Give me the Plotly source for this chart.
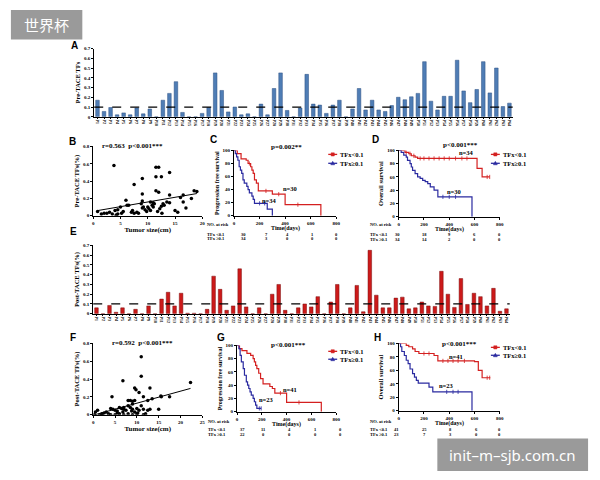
import plotly.graph_objects as go
import numpy as np

# ---------------- DATA ----------------
patients = [f"P{i}" for i in range(1, 65)]
pre_tfs = [0.17, 0.055, 0.095, 0.02, 0.04, 0.02, 0.09, 0.03, 0.08, 0.0,
           0.17, 0.24, 0.36, 0.045, 0.0, 0.0, 0.035, 0.095, 0.45, 0.27,
           0.05, 0.10, 0.02, 0.03, 0.0, 0.13, 0.02, 0.29, 0.45, 0.065,
           0.0, 0.09, 0.435, 0.13, 0.12, 0.035, 0.12, 0.17, 0.0, 0.08,
           0.29, 0.07, 0.17, 0.07, 0.055, 0.115, 0.20, 0.175, 0.205, 0.24,
           0.565, 0.16, 0.07, 0.21, 0.21, 0.58, 0.265, 0.145, 0.28, 0.565,
           0.245, 0.50, 0.105, 0.14]
post_tfs = [0.06, 0.0, 0.085, 0.015, 0.06, 0.0, 0.045, 0.0, 0.08, 0.0,
            0.15, 0.22, 0.08, 0.21, 0.005, 0.005, 0.0, 0.045, 0.385, 0.25,
            0.035, 0.08, 0.46, 0.07, 0.0, 0.06, 0.0, 0.20, 0.30, 0.035,
            0.0, 0.06, 0.10, 0.07, 0.175, 0.0, 0.12, 0.30, 0.0, 0.06,
            0.29, 0.02, 0.65, 0.19, 0.06, 0.06, 0.16, 0.17, 0.05, 0.06,
            0.12, 0.08, 0.075, 0.435, 0.20, 0.065, 0.36, 0.095, 0.21, 0.175,
            0.08, 0.26, 0.025, 0.05]

size_pre = [3.8, 11.5, 12.0, 14.0, 9.0, 11.5, 12.5, 7.5, 11.5, 12.0, 9.0, 14.0, 16.5, 18.5, 19.0,
            6.0, 16.0, 18.0, 9.0, 10.5, 11.0, 12.8, 11.2, 8.8, 6.5, 9.2, 10.0, 10.2, 13.0, 14.0,
            12.5, 15.0, 17.0, 16.5, 4.5, 5.0, 4.0, 3.0, 2.5, 1.5, 2.0, 3.5, 4.2, 4.5, 5.2,
            5.5, 7.0, 7.5, 8.0, 8.3, 9.5, 9.8, 10.5, 11.0, 12.2, 12.6, 11.8, 15.5, 9.0, 7.2,
            6.2, 0.8, 10.8, 13.5]
tfs_pre = [0.58, 0.56, 0.56, 0.50, 0.43, 0.45, 0.45, 0.36, 0.29, 0.27, 0.25, 0.24, 0.24, 0.29, 0.28,
           0.18, 0.21, 0.20, 0.17, 0.16, 0.15, 0.14, 0.14, 0.14, 0.12, 0.10, 0.10, 0.08, 0.12, 0.15,
           0.11, 0.06, 0.09, 0.16, 0.07, 0.10, 0.06, 0.04, 0.03, 0.02, 0.03, 0.02, 0.01, 0.02, 0.03,
           0.05, 0.04, 0.03, 0.04, 0.03, 0.07, 0.05, 0.06, 0.10, 0.08, 0.03, 0.05, 0.04, 0.09, 0.06,
           0.12, 0.05, 0.12, 0.16]

size_post = [11.0, 11.0, 6.8, 9.5, 9.8, 13.0, 22.3, 10.5, 11.5, 4.3, 12.5, 13.5, 15.5, 15.6, 17.5,
             8.0, 8.5, 9.0, 9.5, 9.0, 8.0, 7.0, 6.0, 6.5, 7.0, 7.5, 8.5, 9.0, 10.0, 10.5,
             11.0, 11.5, 12.5, 13.0, 15.0, 4.0, 4.5, 5.0, 5.5, 3.0, 2.5, 2.0, 1.5, 1.0, 0.5,
             3.5, 4.0, 5.0, 6.0, 7.0, 8.0, 9.0, 10.0, 11.5, 12.0, 9.5, 8.8, 10.2, 6.8, 5.5,
             0.3, 2.0]
tfs_post = [0.65, 0.43, 0.38, 0.30, 0.28, 0.30, 0.36, 0.25, 0.20, 0.20, 0.16, 0.18, 0.21, 0.20, 0.20,
            0.16, 0.16, 0.15, 0.16, 0.12, 0.10, 0.08, 0.08, 0.07, 0.06, 0.05, 0.08, 0.06, 0.07, 0.05,
            0.10, 0.06, 0.05, 0.06, 0.06, 0.07, 0.06, 0.05, 0.04, 0.03, 0.02, 0.01, 0.0, 0.05, 0.03,
            0.01, 0.0, 0.0, 0.01, 0.0, 0.01, 0.0, 0.01, 0.0, 0.01, 0.03, 0.04, 0.02, 0.03, 0.02,
            0.0, 0.0]

# Kaplan-Meier step data (time in days, survival in %)
c_low_t = [0, 25, 55, 95, 110, 130, 140, 150, 160, 175, 190, 300, 400, 680]
c_low_s = [100, 95, 87, 85, 80, 75, 70, 65, 55, 50, 38, 33, 17, 0]
c_low_cens = [120, 250, 350, 500]
c_high_t = [0, 10, 20, 30, 40, 50, 60, 70, 80, 100, 110, 120, 140, 150, 160, 260, 300]
c_high_s = [100, 95, 90, 85, 75, 70, 65, 55, 50, 45, 40, 35, 30, 25, 19, 10, 0]
c_high_cens = [200, 240]

d_low_t = [0, 50, 80, 100, 130, 150, 620, 660, 720]
d_low_s = [100, 97, 95, 92, 90, 88, 73, 60, 60]
d_low_cens = [60, 90, 120, 170, 200, 240, 280, 320, 360, 400, 450, 500, 540, 700, 720]
d_high_t = [0, 20, 40, 60, 70, 90, 100, 110, 130, 150, 170, 190, 210, 230, 250, 280, 310, 580]
d_high_s = [100, 97, 93, 90, 85, 80, 75, 70, 65, 60, 58, 55, 53, 50, 45, 40, 30, 0]
d_high_cens = [350, 400, 450]

g_low_t = [0, 20, 40, 80, 110, 130, 140, 150, 160, 175, 190, 210, 265, 285, 305, 400, 680]
g_low_s = [100, 95, 92, 88, 85, 80, 75, 70, 65, 58, 50, 42, 38, 35, 28, 14, 0]
g_low_cens = [350, 500]
g_high_t = [0, 15, 25, 35, 50, 60, 75, 85, 95, 105, 115, 130, 140, 150, 160, 195]
g_high_s = [100, 95, 85, 75, 65, 55, 45, 40, 35, 30, 25, 20, 15, 10, 5, 5]
g_high_cens = [180, 195]

h_low_t = [0, 60, 80, 110, 130, 160, 280, 310, 600, 630, 660, 725]
h_low_s = [100, 97, 95, 92, 88, 85, 82, 74, 73, 60, 49, 49]
h_low_cens = [200, 240, 350, 390, 430, 470, 520, 700, 720]
h_high_t = [0, 15, 25, 45, 60, 75, 90, 110, 125, 140, 155, 240, 270, 580]
h_high_s = [100, 95, 88, 82, 75, 70, 62, 55, 50, 45, 41, 35, 28, 0]
h_high_cens = [380, 430, 470]

group_names = ["TFx<0.1", "TFx\u22650.1"]
risk_header = "NO. at risk"
risk_labels = ["TFx <0.1", "TFx \u22650.1"]
c_risk = [[30, 7, 4, 1, 0], [34, 3, 0, 0, 0]]
d_risk = [[30, 18, 9, 6, 0], [34, 14, 2, 0, 0]]
g_risk = [[37, 11, 4, 1, 0], [22, 0, 0, 0, 0]]
h_risk = [[41, 25, 8, 6, 0], [23, 7, 3, 0, 0]]

# ---------------- STYLE ----------------
W, H = 600, 480
SERIF = "Liberation Serif"
SANS = "Liberation Sans"
RED = "#d42020"
BLUE = "#2a2aa0"
BAR_BLUE = "#4f7db5"
BAR_RED = "#cc1a1a"

def px(x):
    return x / W

def py(y):
    return 1 - y / H

fig = go.Figure()
shapes = []
ann = []

def text(x, y, s, size=7, family=SERIF, bold=True, color="black", xanchor="center"):
    ann.append(dict(x=px(x), y=py(y), xref="paper", yref="paper", text=s, showarrow=False,
                    xanchor=xanchor, yanchor="middle",
                    font=dict(family=family, size=size, color=color, weight="bold" if bold else "normal")))

axis_common = dict(showline=True, linecolor="black", linewidth=1, ticks="outside",
                   ticklen=2, tickwidth=1, tickcolor="black", showgrid=False, zeroline=False,
                   tickfont=dict(family=SERIF, size=5, color="black", weight="bold"))

def set_axes(n, xdom, ydom, xr, yr, xdtick=None, ydtick=None, xtitle=None, ytitle=None,
             xcat=False, ytitle_size=6.5):
    xa = dict(axis_common, domain=xdom, anchor=f"y{n}" if n > 1 else "y")
    ya = dict(axis_common, domain=ydom, anchor=f"x{n}" if n > 1 else "x")
    if xr is not None:
        xa["range"] = xr
    ya["range"] = yr
    if xdtick:
        xa["dtick"] = xdtick
        xa["tick0"] = 0
    if ydtick:
        ya["dtick"] = ydtick
        ya["tick0"] = 0
    if xtitle:
        xa["title"] = dict(text=xtitle, standoff=1,
                           font=dict(family=SERIF, size=7, color="black", weight="bold"))
    if ytitle:
        ya["title"] = dict(text=ytitle, standoff=2,
                           font=dict(family=SERIF, size=ytitle_size, color="black", weight="bold"))
    if xcat:
        xa.update(tickangle=90, ticks="outside", ticklen=1,
                  tickfont=dict(family=SERIF, size=4, color="black", weight="bold"))
    key = "" if n == 1 else str(n)
    fig.update_layout(**{f"xaxis{key}": xa, f"yaxis{key}": ya})

# panel A bars
fig.add_trace(go.Bar(x=patients, y=pre_tfs, marker=dict(color=BAR_BLUE, line=dict(color="#2b4f80", width=0.5)),
                     width=0.55, xaxis="x", yaxis="y", showlegend=False))
set_axes(1, [px(94), px(516)], [py(116), py(47)], None, [0, 0.7], ydtick=0.1,
         ytitle="Pre-TACE TFs", xcat=True)

# panel B scatter
fig.add_trace(go.Scatter(x=size_pre, y=tfs_pre, mode="markers",
                         marker=dict(color="black", size=3.5), xaxis="x2", yaxis="y2", showlegend=False))
kb = np.polyfit(size_pre, tfs_pre, 1)
xb = np.array([min(size_pre), max(size_pre)])
fig.add_trace(go.Scatter(x=xb, y=np.polyval(kb, xb), mode="lines", line=dict(color="black", width=1),
                         xaxis="x2", yaxis="y2", showlegend=False))
set_axes(2, [px(93), px(203)], [py(216), py(146)], [0, 20], [0, 0.8], xdtick=5, ydtick=0.2,
         xtitle="Tumor size(cm)", ytitle="Pre-TACE TFs(%)")

# KM helper
def km(n, t, s, cens, color):
    fig.add_trace(go.Scatter(x=t, y=s, mode="lines", line=dict(color=color, width=1.2, shape="hv"),
                             xaxis=f"x{n}", yaxis=f"y{n}", showlegend=False))
    ta = np.array(t)
    sa = np.array(s)
    idx = np.searchsorted(ta, cens, side="right") - 1
    fig.add_trace(go.Scatter(x=cens, y=sa[idx], mode="markers",
                             marker=dict(symbol="line-ns", size=3, line=dict(color=color, width=0.8)),
                             xaxis=f"x{n}", yaxis=f"y{n}", showlegend=False))

def km_legend(x0, y1, y2):
    for yy, color, name, tri in [(y1, RED, group_names[0], False), (y2, BLUE, group_names[1], True)]:
        shapes.append(dict(type="line", xref="paper", yref="paper", x0=px(x0), x1=px(x0 + 9),
                           y0=py(yy), y1=py(yy), line=dict(color=color, width=1.3)))
        cx = x0 + 4.5
        if tri:
            path = (f"M {px(cx - 2)} {py(yy + 1.5)} L {px(cx + 2)} {py(yy + 1.5)} "
                    f"L {px(cx)} {py(yy - 2)} Z")
            shapes.append(dict(type="path", xref="paper", yref="paper", path=path,
                               fillcolor=color, line=dict(color=color, width=0.5)))
        else:
            shapes.append(dict(type="rect", xref="paper", yref="paper", x0=px(cx - 1.6), x1=px(cx + 1.6),
                               y0=py(yy + 1.6), y1=py(yy - 1.6), fillcolor=color,
                               line=dict(color=color, width=0.5)))
        text(x0 + 10, yy, name, size=6.5, xanchor="left")

def risk_table(lx, xs, ys, data):
    text(lx, ys[0], risk_header, size=4.5, xanchor="left")
    for i in range(2):
        text(lx, ys[i + 1], risk_labels[i], size=4.5, xanchor="left")
        for xv, v in zip(xs, data[i]):
            text(xv, ys[i + 1], str(v), size=4.5)

km(3, c_low_t, c_low_s, c_low_cens, RED)
km(3, c_high_t, c_high_s, c_high_cens, BLUE)
set_axes(3, [px(235), px(338)], [py(216), py(150)], [0, 800], [0, 100], xdtick=200, ydtick=20,
         ytitle="Progression free survival", ytitle_size=6)

km(4, d_low_t, d_low_s, d_low_cens, RED)
km(4, d_high_t, d_high_s, d_high_cens, BLUE)
set_axes(4, [px(401), px(503)], [py(217), py(150)], [0, 800], [0, 100], xdtick=200, ydtick=20,
         ytitle="Overall survival")

# panel E bars
fig.add_trace(go.Bar(x=patients, y=post_tfs, marker=dict(color=BAR_RED, line=dict(color="#7a0d0d", width=0.5)),
                     width=0.55, xaxis="x5", yaxis="y5", showlegend=False))
set_axes(5, [px(93), px(513)], [py(315), py(246)], None, [0, 0.7], ydtick=0.1,
         ytitle="Post-TACE TFs(%)", xcat=True)

# panel F scatter
fig.add_trace(go.Scatter(x=size_post, y=tfs_post, mode="markers",
                         marker=dict(color="black", size=3.5), xaxis="x6", yaxis="y6", showlegend=False))
kf = np.polyfit(size_post, tfs_post, 1)
xf = np.array([min(size_post), max(size_post)])
fig.add_trace(go.Scatter(x=xf, y=np.polyval(kf, xf), mode="lines", line=dict(color="black", width=1),
                         xaxis="x6", yaxis="y6", showlegend=False))
set_axes(6, [px(93), px(203)], [py(417), py(345)], [0, 25], [0, 0.8], xdtick=5, ydtick=0.2,
         xtitle="Tumor size(cm)", ytitle="Post-TACE TFs(%)")

km(7, g_low_t, g_low_s, g_low_cens, RED)
km(7, g_high_t, g_high_s, g_high_cens, BLUE)
set_axes(7, [px(238), px(338)], [py(414), py(347)], [0, 800], [0, 100], xdtick=200, ydtick=20,
         ytitle="Progression free survival", ytitle_size=6)

km(8, h_low_t, h_low_s, h_low_cens, RED)
km(8, h_high_t, h_high_s, h_high_cens, BLUE)
set_axes(8, [px(401), px(503)], [py(413), py(345)], [0, 800], [0, 100], xdtick=200, ydtick=20,
         ytitle="Overall survival")

# dashed threshold lines
for ax in ["", "5"]:
    shapes.append(dict(type="line", xref=f"x{ax} domain", yref=f"y{ax}", x0=0, x1=1, y0=0.1, y1=0.1,
                       line=dict(color="black", width=1.3, dash="dash")))

# KM x titles
text(287, 228.5, "Time(days)", size=6)
text(452, 229.5, "Time(days)", size=6)
text(288, 426.5, "Time(days)", size=6)
text(452, 425.5, "Time(days)", size=6)

# KM legends
km_legend(330, 154, 163)
km_legend(494, 154, 163)
km_legend(330, 353, 361)
km_legend(494, 349, 357)

# panel letters
for lab, x, y in [("A", 74, 44), ("B", 72, 141), ("C", 214, 139), ("D", 378, 139),
                  ("E", 73, 232), ("F", 73, 339), ("G", 222, 339), ("H", 380, 339)]:
    text(x, y, lab, size=10, family=SANS)

# stats
text(133, 146, "r=0.563  p<0.001***", size=7)
text(288, 147, "p=0.002**", size=7)
text(463, 145, "p<0.001***", size=7)
text(143, 345, "r=0.592  p<0.001***", size=7)
text(290, 347, "p<0.001***", size=7)
text(462, 346, "p<0.001***", size=7)

# n labels in data coords
def dtext(n, x, y, s):
    ann.append(dict(x=x, y=y, xref=f"x{n}", yref=f"y{n}", text=s, showarrow=False,
                    font=dict(family=SERIF, size=6.5, color="black", weight="bold")))
dtext(3, 440, 42, "n=30")
dtext(3, 280, 24, "n=34")
dtext(4, 540, 97, "n=34")
dtext(4, 440, 38, "n=30")
dtext(7, 425, 34, "n=41")
dtext(7, 235, 18, "n=23")
dtext(8, 450, 80, "n=41")
dtext(8, 380, 38, "n=23")

# number-at-risk tables
risk_table(206, [245, 268, 289, 314, 338], [224.5, 234.5, 239], c_risk)
risk_table(370, [400, 427, 452, 477, 503], [225, 235, 239.5], d_risk)
risk_table(207, [244, 265, 291, 317, 342], [424, 432.5, 437], g_risk)
risk_table(370, [399, 427, 453, 479, 503], [424, 431.5, 437], h_risk)

# watermarks
shapes.append(dict(type="rect", xref="paper", yref="paper", x0=px(10), x1=px(82), y0=py(38), y1=py(8),
                   fillcolor="rgba(120,120,120,0.75)", line=dict(width=0)))
text(46, 23, "世界杯", size=15, family="Noto Sans CJK SC", bold=False, color="white")
shapes.append(dict(type="rect", xref="paper", yref="paper", x0=px(440), x1=px(592), y0=py(474), y1=py(441),
                   fillcolor="rgba(120,120,120,0.75)", line=dict(width=0)))
text(516, 458, "init\u2013m\u2013sjb.com.cn", size=15, family="Noto Sans", bold=False, color="white")

fig.update_layout(annotations=ann, shapes=shapes, width=W, height=H, margin=dict(l=0, r=0, t=0, b=0),
                  paper_bgcolor="white", plot_bgcolor="white", bargap=0.3, showlegend=False)

fig.write_html("out.html")
